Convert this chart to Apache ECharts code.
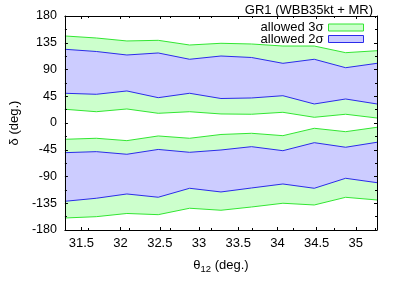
<!DOCTYPE html>
<html><head><meta charset="utf-8">
<script src="https://cdn.jsdelivr.net/npm/echarts@6/dist/echarts.min.js"></script>
<style>html,body{margin:0;padding:0;background:#fff}#c{width:407px;height:285px}</style>
</head><body><div id="c"></div>
<script>
// theta12 grid (deg.)
const theta = [31.29, 31.69, 32.08, 32.48, 32.88, 33.28, 33.67, 34.07, 34.47, 34.87, 35.27];
// upper band (delta > 0)
const upper3Top = [146.4, 143.0, 138.0, 139.1, 131.2, 134.1, 132.9, 129.5, 129.5, 118.3, 121.6];
const upper2Top = [124.0, 120.3, 114.4, 117.8, 107.2, 112.7, 110.2, 100.4, 107.2, 93.0, 100.4];
const upper2Bot = [50.0, 48.3, 53.9, 42.6, 50.0, 41.2, 42.1, 45.9, 32.0, 40.4, 32.0];
const upper3Bot = [23.1, 19.0, 23.6, 16.3, 19.0, 15.2, 14.7, 18.0, 9.6, 14.7, 8.4];
// lower band (delta < 0)
const lower3Top = [-27.4, -25.7, -29.7, -21.8, -25.7, -19.3, -17.3, -21.3, -8.9, -14.6, -7.2];
const lower2Top = [-49.9, -48.2, -52.6, -44.5, -49.3, -45.4, -39.8, -46.6, -33.1, -40.8, -32.4];
const lower2Bot = [-131.7, -126.6, -119.4, -124.9, -109.8, -116.0, -109.3, -102.6, -109.8, -93.0, -100.4];
const lower3Bot = [-159.8, -157.6, -152.2, -154.2, -143.4, -146.8, -141.3, -135.0, -137.9, -125.0, -129.5];
// ticks
const xTickLabels = [31.5, 32, 32.5, 33, 33.5, 34, 34.5, 35];
const xMinorTicks = [31.75, 32.25, 32.75, 33.25, 33.75, 34.25, 34.75, 35.25];

const X_MIN = 31.29, X_MAX = 35.27;
const G_FILL = '#ccffcc', G_LINE = '#33e633';
const B_FILL = '#ccccff', B_LINE = '#2b2bea';
const FONT = 'Liberation Sans';

function pts(arr) { return theta.map((t, i) => [t, arr[i]]); }

function fill(name, lo, hi, color) {
  return {
    type: 'custom', name: name, silent: true, clip: true, z: 2,
    itemStyle: { color: color },
    data: theta.map((t, i) => [t, lo[i], hi[i]]),
    encode: { x: 0, y: [1, 2] },
    renderItem: function (params, api) {
      if (params.dataIndex !== 0) return null;
      const top = theta.map((t, i) => api.coord([t, hi[i]]));
      const bot = theta.map((t, i) => api.coord([t, lo[i]])).reverse();
      return { type: 'polygon', shape: { points: top.concat(bot) }, style: { fill: color, stroke: null } };
    }
  };
}
function edge(arr, color) {
  return { type: 'line', data: pts(arr), symbol: 'none', silent: true, z: 3,
    lineStyle: { color: color, width: 1 }, itemStyle: { color: color } };
}

const series = [
  fill('allowed 3σ', upper3Bot, upper3Top, G_FILL),
  fill('l3', lower3Bot, lower3Top, G_FILL),
  edge(upper3Top, G_LINE), edge(upper3Bot, G_LINE), edge(lower3Top, G_LINE), edge(lower3Bot, G_LINE),
  fill('allowed 2σ', upper2Bot, upper2Top, B_FILL),
  fill('l2', lower2Bot, lower2Top, B_FILL),
  edge(upper2Top, B_LINE), edge(upper2Bot, B_LINE), edge(lower2Top, B_LINE), edge(lower2Bot, B_LINE)
];

const axisLine = { show: true, onZero: false, lineStyle: { color: '#000', width: 1 } };
const noLine = { show: false, onZero: false };
function xAx(grid, pos, show, custom, len, labels) {
  return {
    type: 'value', gridIndex: grid, position: pos, min: X_MIN, max: X_MAX, z: 10,
    axisLine: show ? axisLine : noLine,
    splitLine: { show: false },
    axisTick: { show: true, inside: true, length: len, customValues: custom, lineStyle: { color: '#000', width: 1 } },
    axisLabel: { show: labels, customValues: custom, color: '#000', fontSize: 13, fontFamily: FONT, margin: 7 },
  };
}
function yAx(grid, pos, show) {
  return { type: 'value', gridIndex: grid, position: pos, min: -180, max: 180, interval: 45, z: 10,
    axisLine: show ? axisLine : noLine, splitLine: { show: false },
    axisTick: { show: show, inside: true, length: 3, lineStyle: { color: '#000', width: 1 } },
    minorTick: { show: show, splitNumber: 2, length: 2, lineStyle: { color: '#000', width: 1 } },
    axisLabel: { show: false, color: '#000', fontSize: 12.5, fontFamily: FONT, margin: 8 } };
}

const gridRect = { left: 50, right: 30, top: 16, bottom: 55 };
const yMain = yAx(0, 'left', true);
yMain.axisLabel.show = true;
yMain.name = 'δ (deg.)'; yMain.nameLocation = 'middle'; yMain.nameGap = 31; yMain.nameRotate = 90;
yMain.nameTextStyle = { fontSize: 13, color: '#000', fontFamily: FONT };

const option = {
  animation: false,
  title: { text: 'GR1 (WBB35kt + MR)', right: 29, top: -1,
    textStyle: { fontSize: 13, fontWeight: 'normal', color: '#000', fontFamily: FONT } },
  legend: {
    orient: 'vertical', right: 38, top: 16, align: 'right', itemGap: -1.5,
    itemWidth: 35, itemHeight: 7, selectedMode: false, z: 20,
    textStyle: { fontSize: 13, color: '#000', fontFamily: FONT },
    data: [
      { name: 'allowed 3σ', icon: 'rect', itemStyle: { color: G_FILL, borderColor: G_LINE, borderWidth: 1 } },
      { name: 'allowed 2σ', icon: 'rect', itemStyle: { color: B_FILL, borderColor: B_LINE, borderWidth: 1 } }
    ]
  },
  grid: [Object.assign({}, gridRect), Object.assign({}, gridRect)],
  xAxis: [
    Object.assign(xAx(0, 'bottom', true, xTickLabels, 3, true), {
      name: '{a|θ}{s|12}{a| (deg.)}', nameLocation: 'middle', nameGap: 26,
      nameTextStyle: { rich: {
        a: { fontSize: 13, color: '#000', fontFamily: FONT },
        s: { fontSize: 9.5, color: '#000', fontFamily: FONT, padding: [8, 0, 0, 0] } } }
    }),
    xAx(0, 'top', true, xTickLabels, 3, false),
    xAx(1, 'bottom', false, xMinorTicks, 2, false),
    xAx(1, 'top', false, xMinorTicks, 2, false)
  ],
  yAxis: [yMain, yAx(0, 'right', true), yAx(1, 'left', false)],
  series: series
};

const chart = echarts.init(document.getElementById('c'), null, { renderer: 'canvas' });
chart.setOption(option);
</script></body></html>
